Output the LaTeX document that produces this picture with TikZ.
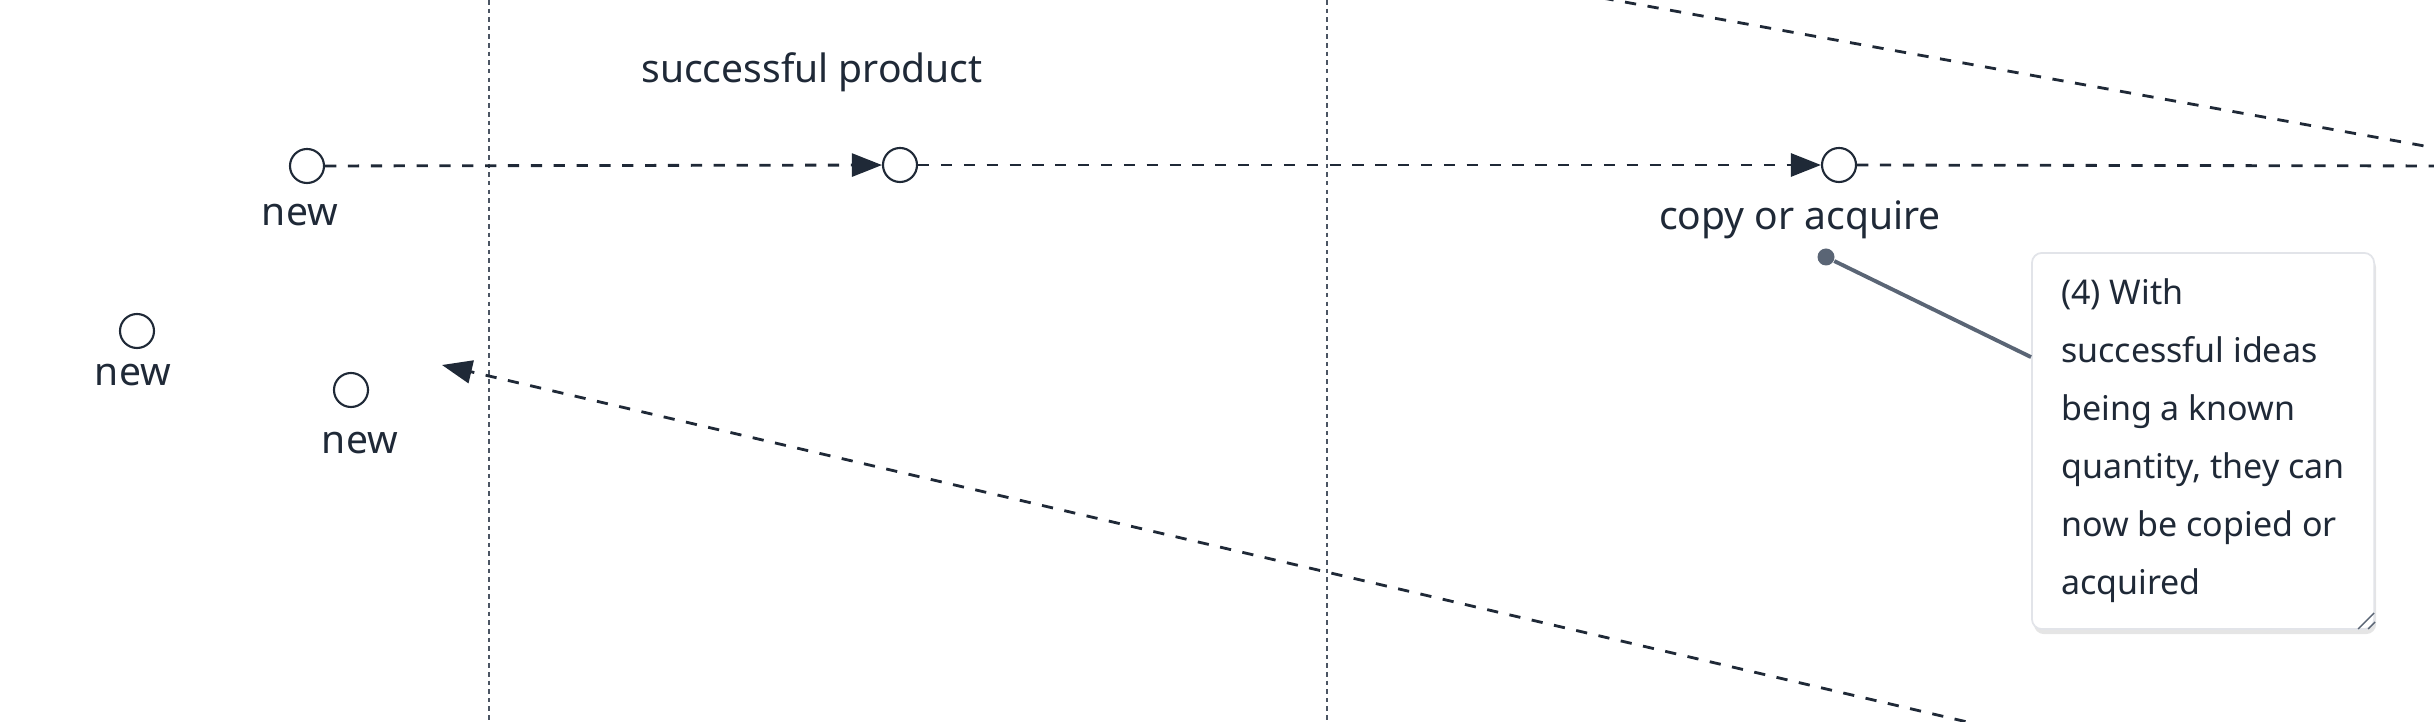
\documentclass[tikz,border=0pt]{standalone}
\usepackage{fontspec}
\setmainfont{Noto Sans}
\usetikzlibrary{arrows.meta,shadows}

\definecolor{ink}{RGB}{31,41,55}
\definecolor{laneline}{RGB}{75,85,99}
\definecolor{pinline}{RGB}{90,101,117}
\definecolor{noteedge}{RGB}{226,228,233}

\tikzset{
    stage/.style={circle,draw=ink,line width=0.6pt,fill=white,minimum size=0.34cm,inner sep=0pt},
    stagelabel/.style={anchor=base,text=ink,font=\fontsize{11.1pt}{13pt}\selectfont},
    flow/.style={ink,line width=0.8pt,dash pattern=on 3.2pt off 3.3pt},
    flowarrow/.style={flow,-{Triangle[length=0.3cm,width=0.23cm]}},
    lane/.style={laneline,line width=0.5pt,dash pattern=on 1.3pt off 1.15pt},
    pin/.style={circle,fill=pinline,minimum size=0.17cm,inner sep=0pt},
    notebox/.style={draw=noteedge,line width=0.5pt,fill=white,rounded corners=0.1cm,
        minimum width=3.42cm,minimum height=3.76cm,inner sep=0pt,align=left,text=ink,
        font=\fontsize{9.67pt}{16.5pt}\selectfont,
        drop shadow={shadow xshift=0.02cm,shadow yshift=-0.05cm,opacity=0.1,fill=black}}
}

\begin{document}
\begin{tikzpicture}[x=0.01cm,y=-0.01cm]
    \useasboundingbox (0,0) rectangle (2434,722);
    \clip (0,0) rectangle (2434,722);

    % Lanes
    \draw[lane] (489,0) -- (489,722);
    \draw[lane] (1327,0) -- (1327,722);

    % Stages
    \node[stage] (newa) at (307,166) {};
    \node[stage] (hit) at (900,165) {};
    \node[stage] (copy) at (1839,165) {};
    \node[stage] (newb) at (137,331) {};
    \node[stage] (newc) at (351,390) {};

    % Stage labels
    \node[stagelabel] at (300,226) {new};
    \node[stagelabel] at (812,83) {successful product};
    \node[stagelabel] at (1800,230) {copy or acquire};
    \node[stagelabel] at (133,386) {new};
    \node[stagelabel] at (360,454) {new};

    % Flows
    \coordinate (rightend) at (2460,166);
    \coordinate (topin) at (1580,-6);
    \coordinate (topout) at (2480,156);
    \coordinate (backin) at (2010,732);
    \coordinate (backtip) at (442,365);
    \draw[flowarrow] (newa) -- (hit);
    \draw[flowarrow] (hit) -- (copy);
    \draw[flow] (copy) -- (rightend);
    \draw[flow] (topin) -- (topout);
    \draw[flowarrow] (backin) -- (backtip);

    % Note (4)
    \node[notebox] (note) at (2203,441) {(4) With\\successful ideas\\being a known\\quantity, they can\\now be copied or\\acquired};
    \node[pin] (notepin) at (1826,257) {};
    \draw[pinline,line width=1.1pt] (notepin) -- (note);
    \draw[pinline,line width=0.4pt] ([shift={(-17,-1)}]note.south east) -- ([shift={(-1,-17)}]note.south east);
    \draw[pinline,line width=0.4pt] ([shift={(-7,-1)}]note.south east) -- ([shift={(0,-8)}]note.south east);
\end{tikzpicture}
\end{document}
